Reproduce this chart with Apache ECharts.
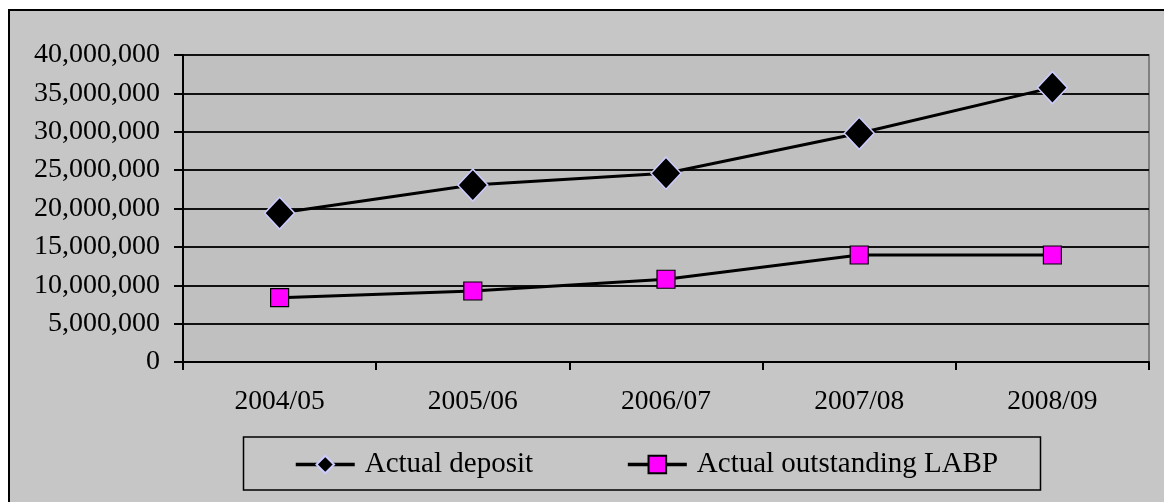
<!DOCTYPE html>
<html>
<head>
<meta charset="utf-8">
<script src="https://cdn.jsdelivr.net/npm/echarts@6/dist/echarts.min.js"></script>
<style>
  html, body { margin: 0; padding: 0; background: #ffffff; }
  #chart { width: 1164px; height: 502px; }
</style>
</head>
<body>
<div id="chart"></div>
<script>
// Fiscal years on the category axis
const years = ['2004/05', '2005/06', '2006/07', '2007/08', '2008/09'];
// Actual deposit per year
const actualDeposit = [19400000, 23050000, 24600000, 29800000, 35750000];
// Actual outstanding LABP per year
const actualLABP = [8380000, 9250000, 10780000, 13940000, 13940000];
// Value axis ticks
const yMin = 0;
const yMax = 40000000;
const yStep = 5000000;

const serif = '"Liberation Serif", "Times New Roman", serif';

const chart = echarts.init(document.getElementById('chart'), null, { renderer: 'canvas' });

const fmt = v => v.toLocaleString('en-US');

chart.setOption({
  backgroundColor: '#ffffff',
  animation: false,
  graphic: [
    {
      type: 'rect', z: -10, silent: true,
      shape: { x: 9, y: 10, width: 1170, height: 510 },
      style: { fill: '#c6c6c6', stroke: '#000000', lineWidth: 2 }
    },
    {
      type: 'rect', z: 1, silent: true,
      shape: { x: 243.5, y: 437, width: 797, height: 53 },
      style: { fill: 'none', stroke: '#000000', lineWidth: 1.5 }
    }
  ],
  grid: {
    left: 183, top: 55, right: 15, bottom: 140,
    show: true,
    backgroundColor: '#c0c0c0',
    borderColor: '#808080',
    borderWidth: 2
  },
  xAxis: {
    type: 'category',
    data: years,
    boundaryGap: true,
    axisLine: { lineStyle: { color: '#000000', width: 2 } },
    axisTick: { show: true, length: 8, inside: false, lineStyle: { color: '#000000', width: 2 } },
    axisLabel: { color: '#000000', fontFamily: serif, fontSize: 27.5, margin: 26 },
    splitLine: { show: false }
  },
  yAxis: {
    type: 'value',
    min: yMin, max: yMax, interval: yStep,
    axisLine: { show: true, lineStyle: { color: '#000000', width: 2 } },
    axisTick: { show: true, length: 9, lineStyle: { color: '#000000', width: 2 } },
    axisLabel: { color: '#000000', fontFamily: serif, fontSize: 28, margin: 23, formatter: fmt },
    splitLine: { show: true, lineStyle: { color: '#111111', width: 2 } }
  },
  legend: {
    left: 294, top: 450,
    padding: 0,
    itemGap: 93,
    itemWidth: 59,
    itemHeight: 22,
    lineStyle: { width: 3.5, color: '#000000' },
    textStyle: { color: '#000000', fontFamily: serif, fontSize: 29, padding: [0, 0, 0, 5] },
    data: ['Actual deposit', 'Actual outstanding LABP']
  },
  series: [
    {
      name: 'Actual deposit',
      type: 'line',
      data: actualDeposit,
      symbol: 'diamond',
      symbolSize: [30, 32],
      lineStyle: { color: '#000000', width: 3 },
      itemStyle: { color: '#000000', borderColor: '#ccccff', borderWidth: 1.5 },
      z: 3
    },
    {
      name: 'Actual outstanding LABP',
      type: 'line',
      data: actualLABP,
      symbol: 'rect',
      symbolSize: [18, 18],
      lineStyle: { color: '#000000', width: 3 },
      itemStyle: { color: '#ff00ff', borderColor: '#000000', borderWidth: 1.2 },
      z: 3
    }
  ]
});
</script>
</body>
</html>
